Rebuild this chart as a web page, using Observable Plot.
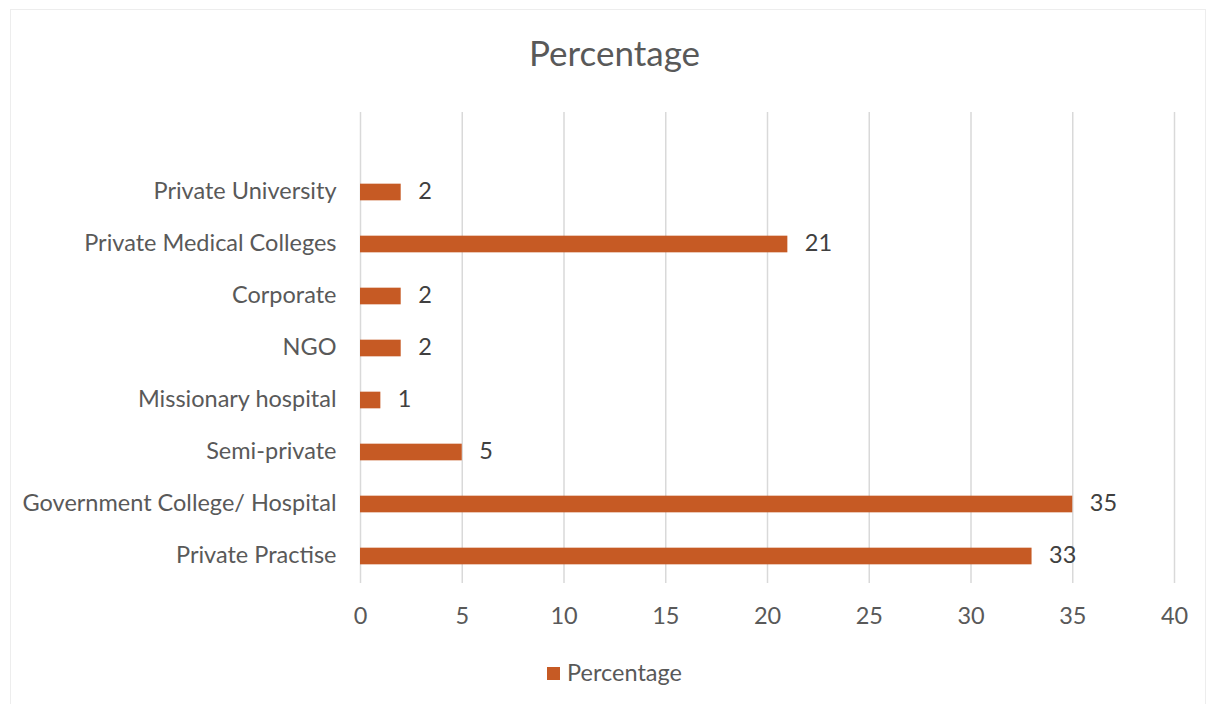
<!DOCTYPE html>
<html>
<head>
<meta charset="utf-8">
<script src="https://cdn.jsdelivr.net/npm/d3@7"></script>
<script src="https://cdn.jsdelivr.net/npm/@observablehq/plot@0.6"></script>
<style>
  html, body { margin: 0; padding: 0; background: #fff; }
  #wrap { position: relative; width: 1217px; height: 704px; overflow: hidden; font-family: Lato, "Open Sans", sans-serif; }
  #border { position: absolute; left: 10px; top: 9px; width: 1196px; height: 710px; border: 1px solid #EDEDED; box-sizing: border-box; }
  #title { position: absolute; left: 0; width: 1229px; top: 31px; text-align: center; font-size: 35px; line-height: 42px; color: #595959; }
  #legend { position: absolute; left: 6px; width: 1217px; top: 658px; text-align: center; font-size: 23.5px; line-height: 28px; color: #595959; }
  #legend .sw { display: inline-block; width: 13px; height: 13px; background: #C65A24; margin-right: 7px; vertical-align: 1px; }
  #chart { position: absolute; left: 0; top: 0; }
</style>
</head>
<body>
<div id="wrap">
  <div id="border"></div>
  <div id="chart"></div>
  <div id="title">Percentage</div>
  <div id="legend"><span class="sw"></span>Percentage</div>
</div>
<script>
const categories = ["Private University", "Private Medical Colleges", "Corporate", "NGO", "Missionary hospital", "Semi-private", "Government College/ Hospital", "Private Practise"];
const values = [2, 21, 2, 2, 1, 5, 35, 33];
const xTicks = [0, 5, 10, 15, 20, 25, 30, 35, 40];
const seriesName = "Percentage";

const data = categories.map((c, i) => ({category: c, value: values[i]}));

const plotTop = 112, plotBottom = 583;
const step = (plotBottom - plotTop) / (categories.length + 1);
const fs = 23.5;

const chart = Plot.plot({
  width: 1217,
  height: 704,
  marginTop: plotTop,
  marginBottom: 704 - plotBottom,
  marginLeft: 360,
  marginRight: 43,
  style: {fontFamily: "Lato, 'Open Sans', sans-serif", background: "transparent"},
  x: {domain: [0, 40], ticks: xTicks, label: null},
  y: {domain: categories, range: [plotTop + step, plotBottom], padding: 0, label: null},
  marks: [
    Plot.gridX(xTicks, {stroke: "#D9D9D9", strokeOpacity: 1, strokeWidth: 1.5}),
    Plot.barX(data, {x: "value", y: "category", fill: "#C65A24", insetTop: (step - 17) / 2, insetBottom: (step - 17) / 2}),
    Plot.text(data, {x: "value", y: "category", text: d => String(d.value), textAnchor: "start", dx: 17, dy: -1, fill: "#404040", fontSize: fs}),
    Plot.axisX({ticks: xTicks, tickSize: 0, tickPadding: 24, fontSize: fs, color: "#595959", label: null}),
    Plot.axisY({tickSize: 0, tickPadding: 24, dy: -1, fontSize: fs, color: "#595959", label: null})
  ]
});
document.getElementById("chart").appendChild(chart);
</script>
</body>
</html>
